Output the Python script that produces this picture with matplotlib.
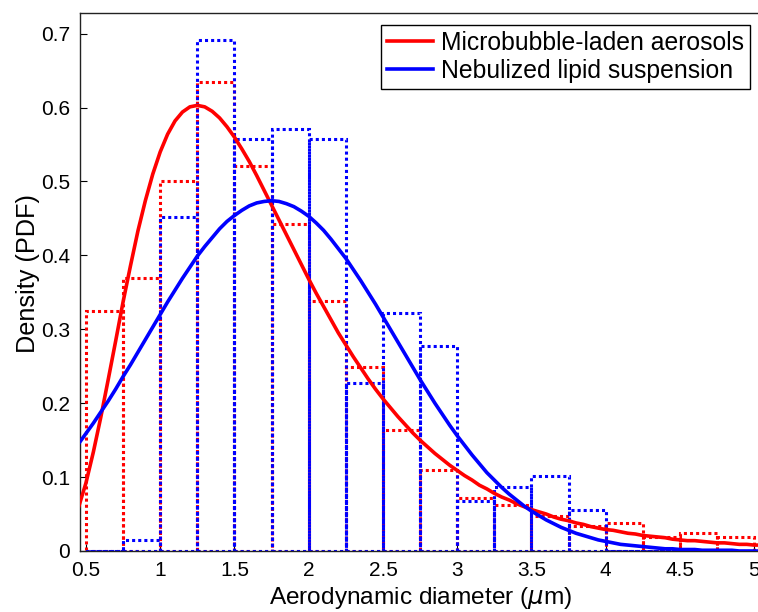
import numpy as np
import matplotlib
matplotlib.use("Agg")
import matplotlib.pyplot as plt

plt.rcParams['font.family'] = ['Liberation Sans', 'DejaVu Sans']

# Histogram bins (aerodynamic diameter, um) and densities
bin_edges = [0.5, 0.75, 1.0, 1.25, 1.5, 1.75, 2.0, 2.25, 2.5, 2.75, 3.0,
             3.25, 3.5, 3.75, 4.0, 4.25, 4.5, 4.75, 5.0]
red_density = [0.325, 0.370, 0.501, 0.635, 0.521, 0.443, 0.338, 0.249, 0.164,
               0.109, 0.072, 0.062, 0.048, 0.034, 0.038, 0.019, 0.024, 0.019]
blue_density = [0.0, 0.0145, 0.452, 0.691, 0.558, 0.571, 0.558, 0.227, 0.322,
                0.278, 0.067, 0.086, 0.101, 0.055, 0.0, 0.0, 0.0, 0.0]

# Fitted PDF curves, sampled every 0.05 um from 0.45 to 5.05
curve_x = np.round(np.linspace(0.45, 5.05, 93), 2)
red_curve = [0.059, 0.092, 0.134, 0.181, 0.232, 0.284, 0.337, 0.386, 0.433, 0.474,
             0.510, 0.540, 0.564, 0.582, 0.594, 0.601, 0.603, 0.601, 0.595, 0.586,
             0.574, 0.560, 0.544, 0.527, 0.508, 0.488, 0.468, 0.448, 0.428, 0.408,
             0.388, 0.368, 0.349, 0.331, 0.313, 0.295, 0.279, 0.263, 0.248, 0.233,
             0.219, 0.206, 0.194, 0.182, 0.171, 0.160, 0.150, 0.141, 0.132, 0.124,
             0.116, 0.109, 0.102, 0.096, 0.089, 0.084, 0.078, 0.073, 0.069, 0.064,
             0.060, 0.056, 0.053, 0.050, 0.046, 0.043, 0.041, 0.038, 0.036, 0.033,
             0.031, 0.029, 0.028, 0.026, 0.024, 0.023, 0.021, 0.020, 0.019, 0.018,
             0.016, 0.015, 0.014, 0.014, 0.013, 0.012, 0.011, 0.011, 0.010, 0.009,
             0.009, 0.008, 0.008]
blue_curve = [0.145, 0.159, 0.173, 0.188, 0.203, 0.219, 0.236, 0.252, 0.269, 0.286,
              0.303, 0.320, 0.337, 0.353, 0.369, 0.384, 0.399, 0.412, 0.424, 0.436,
              0.446, 0.454, 0.461, 0.467, 0.471, 0.473, 0.474, 0.473, 0.470, 0.466,
              0.460, 0.453, 0.444, 0.434, 0.422, 0.409, 0.396, 0.381, 0.366, 0.350,
              0.334, 0.317, 0.300, 0.283, 0.266, 0.249, 0.232, 0.216, 0.200, 0.185,
              0.170, 0.156, 0.143, 0.130, 0.118, 0.106, 0.096, 0.086, 0.077, 0.069,
              0.061, 0.054, 0.048, 0.042, 0.037, 0.032, 0.028, 0.024, 0.021, 0.018,
              0.015, 0.013, 0.011, 0.009, 0.008, 0.007, 0.006, 0.005, 0.004, 0.003,
              0.003, 0.002, 0.002, 0.002, 0.001, 0.001, 0.001, 0.001, 0.001, 0.000,
              0.000, 0.000, 0.000]

series_labels = ['Microbubble-laden aerosols', 'Nebulized lipid suspension']
x_ticks = [0.5, 1, 1.5, 2, 2.5, 3, 3.5, 4, 4.5, 5]
x_tick_labels = ['0.5', '1', '1.5', '2', '2.5', '3', '3.5', '4', '4.5', '5']
y_ticks = [0, 0.1, 0.2, 0.3, 0.4, 0.5, 0.6, 0.7]
y_tick_labels = ['0', '0.1', '0.2', '0.3', '0.4', '0.5', '0.6', '0.7']

RED = (1, 0, 0)
BLUE = (0, 0, 1)

fig = plt.figure(figsize=(7.58, 6.12), dpi=100)
W, H = 758, 612
x0, x1 = 0.46, 5.05
y0, y1 = 0.0, 0.728
left_px, bottom_px, top_px = 80, 551, 13
px_per_x = 148.5
ax = fig.add_axes([left_px / W, (H - bottom_px) / H,
                   (x1 - x0) * px_per_x / W, (bottom_px - top_px) / H])

widths = np.diff(bin_edges)
dot = (0, (1, 1))
ax.bar(bin_edges[:-1], red_density, width=widths, align='edge', fill=False,
       edgecolor=RED, linestyle=dot, linewidth=2.2, zorder=2)
ax.bar(bin_edges[:-1], blue_density, width=widths, align='edge', fill=False,
       edgecolor=BLUE, linestyle=dot, linewidth=2.2, zorder=2)
ax.plot(curve_x, red_curve, color=RED, lw=2.6, label=series_labels[0], zorder=3)
ax.plot(curve_x, blue_curve, color=BLUE, lw=2.6, label=series_labels[1], zorder=3)

ax.set_xlim(x0, x1)
ax.set_ylim(y0, y1)
ax.set_xticks(x_ticks)
ax.set_xticklabels(x_tick_labels)
ax.set_yticks(y_ticks)
ax.set_yticklabels(y_tick_labels)
ax.tick_params(direction='in', length=5, labelsize=15, pad=7)
for sp in ax.spines.values():
    sp.set_linewidth(1.0)
    sp.set_color('#222222')

ax.set_xlabel('Aerodynamic diameter ($\\mu$m)', fontsize=17.6, labelpad=4)
ax.set_ylabel('Density (PDF)', fontsize=18.2, labelpad=4)
ax.yaxis.set_label_coords(-0.058, 0.515)

leg = ax.legend(loc='upper right', fontsize=17.8, frameon=True, fancybox=False,
                edgecolor='black', framealpha=1, handlelength=1.85,
                handletextpad=0.3, labelspacing=0.15, borderaxespad=0.48,
                borderpad=0.25)
leg.get_frame().set_linewidth(1.0)
for line in leg.get_lines():
    line.set_linewidth(2.6)

fig.savefig('out.png', dpi=100)
